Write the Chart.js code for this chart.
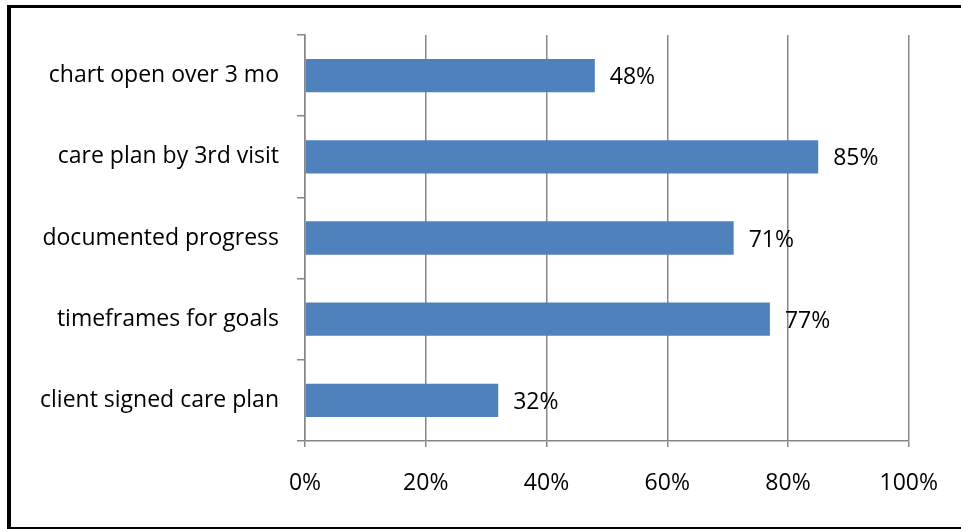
<!DOCTYPE html>
<html>
<head>
<meta charset="utf-8">
<script src="https://cdn.jsdelivr.net/npm/chart.js@4"></script>
<style>
  html, body { margin: 0; padding: 0; background: #fff; overflow: hidden; }
  #wrap { position: relative; width: 961px; height: 529px; }
  #frame {
    position: absolute; left: 7px; top: 5px; width: 1000px; height: 519px;
    border-top: 3px solid #000; border-left: 4px solid #000; border-bottom: 3px solid #000;
    pointer-events: none;
  }
  canvas { position: absolute; left: 0; top: 0; }
</style>
</head>
<body>
<div id="wrap">
  <canvas id="chart" width="961" height="529"></canvas>
  <div id="frame"></div>
</div>
<script>
const categories = [
    "chart open over 3 mo",
    "care plan by 3rd visit",
    "documented progress",
    "timeframes for goals",
    "client signed care plan"
];
const percents = [48, 85, 71, 77, 32];
const xTicks = [0, 20, 40, 60, 80, 100];

const FONT = { family: "'Open Sans', sans-serif", size: 23 };
const GRID = "#878787";

// writes the percentage just past the end of each bar
const valueLabels = {
    id: "valueLabels",
    afterDatasetsDraw(chart) {
        const ctx = chart.ctx;
        const meta = chart.getDatasetMeta(0);
        ctx.save();
        ctx.font = FONT.size + "px " + FONT.family;
        ctx.fillStyle = "#000";
        ctx.textAlign = "left";
        ctx.textBaseline = "middle";
        meta.data.forEach((bar, i) => {
            ctx.fillText(percents[i] + "%", bar.x + 15, bar.y + 2);
        });
        ctx.restore();
    }
};

new Chart(document.getElementById("chart").getContext("2d"), {
    type: "bar",
    data: {
        labels: categories,
        datasets: [{
            data: percents,
            backgroundColor: "#4F81BD",
            borderWidth: 0,
            categoryPercentage: 1,
            barPercentage: 0.41
        }]
    },
    options: {
        indexAxis: "y",
        responsive: false,
        animation: false,
        layout: { padding: { top: 35, right: 52 } },
        plugins: { legend: { display: false }, tooltip: { enabled: false } },
        scales: {
            x: {
                min: 0,
                max: 100,
                afterBuildTicks: scale => { scale.ticks = xTicks.map(v => ({ value: v })); },
                afterFit: scale => { scale.height = 88; },
                grid: { color: GRID, lineWidth: 1.5, tickLength: 6, drawTicks: true },
                border: { display: true, color: GRID, width: 1.5 },
                ticks: {
                    color: "#000",
                    font: FONT,
                    padding: 23,
                    callback: v => v + "%"
                }
            },
            y: {
                afterFit: scale => { scale.width = 305; },
                grid: { offset: true, drawOnChartArea: false, color: GRID, lineWidth: 1.5, tickLength: 8 },
                border: { display: true, color: GRID, width: 1.5 },
                ticks: { color: "#000", font: FONT, padding: 18 }
            }
        }
    },
    plugins: [valueLabels]
});
</script>
</body>
</html>
